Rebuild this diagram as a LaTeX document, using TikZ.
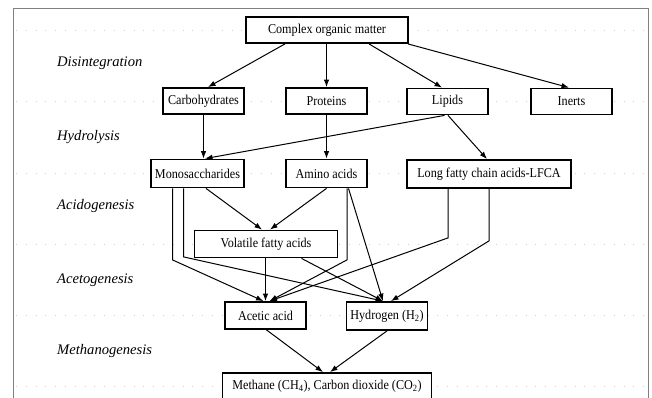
\documentclass[tikz,border=0pt]{standalone}
\usepackage{fontspec}
\setmainfont{Liberation Serif}
\newfontfamily\boxfont[FakeStretch=0.9]{Liberation Serif}
\usetikzlibrary{arrows.meta,calc}
\begin{document}
\begin{tikzpicture}[x=1pt,y=-1pt,
 box/.style={draw, line width=1.8pt, fill=white, inner sep=0pt, minimum height=26pt, font=\boxfont\fontsize{13.5}{15}\selectfont},
 lab/.style={anchor=west, inner sep=0pt, font=\fontsize{14.6}{16}\selectfont\itshape},
 arr/.style={line width=1pt, -{Latex[length=7.5pt,width=5.5pt]}},
 gridline/.style={draw=black!18, line width=0.8pt, dash pattern=on 0.8pt off 9pt},
 frameline/.style={draw=black!50, line width=0.9pt}]
\useasboundingbox (0,0) rectangle (652,398);
% frame
\draw[frameline] (13,398) -- (13,8) -- (648,8) -- (648,398);
% dotted guide lines
\foreach \yy in {30,101,173,244,315,386}
  \draw[gridline] (16,\yy) -- (645,\yy);
% stage labels
\node[lab] (l1) at (57,63) {Disintegration};
\node[lab] (l2) at (57,137) {Hydrolysis};
\node[lab] (l3) at (57,206) {Acidogenesis};
\node[lab] (l4) at (57,280) {Acetogenesis};
\node[lab] (l5) at (57,351) {Methanogenesis};
% boxes
\node[box, minimum width=162pt] (cm) at (327,30) {Complex organic matter};
\node[box, minimum width=81pt] (carb) at (203.5,101) {Carbohydrates};
\node[box, minimum width=81pt] (prot) at (326.5,101) {Proteins};
\node[box, minimum width=81pt] (lip) at (447.5,101.5) {Lipids};
\node[box, minimum width=81pt] (inert) at (571.5,101.5) {Inerts};
\node[box, minimum width=93pt, minimum height=28pt] (mono) at (197.5,173.5) {Monosaccharides};
\node[box, minimum width=81pt, minimum height=28pt] (amino) at (326.5,173.5) {Amino acids};
\node[box, minimum width=164pt, minimum height=28pt] (lfca) at (489,174) {Long fatty chain acids-LFCA};
\node[box, minimum width=143pt, minimum height=27pt] (vfa) at (266,244) {Volatile fatty acids};
\node[box, minimum width=81pt, minimum height=27pt] (acetic) at (265.5,315.5) {Acetic acid};
\node[box, minimum width=81pt, minimum height=28pt] (hyd) at (387,316) {Hydrogen (H\textsubscript{2})};
\node[box, minimum width=209pt, minimum height=27pt] (meth) at (327,386.5) {Methane (CH\textsubscript{4}), Carbon dioxide (CO\textsubscript{2})};
% connectors
\draw[arr] ([xshift=-42pt]cm.south) -- ([xshift=4.5pt]carb.north);
\draw[arr] (prot.north |- cm.south) -- (prot.north);
\draw[arr] ([xshift=42pt]cm.south) -- ([xshift=-5.5pt]lip.north);
\draw[arr] ([xshift=-1pt]cm.south east) -- ([xshift=-2.5pt]inert.north);
\draw[arr] (carb.south) -- (carb.south |- mono.north);
\draw[arr] (prot.south) -- (amino.north);
\draw[arr] ([xshift=-3pt]lip.south) -- ([xshift=7.5pt]mono.north);
\draw[arr] ([xshift=0.5pt]lip.south) -- ([xshift=-2pt]lfca.north);
\draw[arr] ([xshift=8.5pt]mono.south) -- ([xshift=-4pt]vfa.north);
\draw[arr] (amino.south) -- ([xshift=4pt]vfa.north);
\draw[arr] ([xshift=-25pt]mono.south) -- ++(0,71.5) -- ([xshift=-2pt]acetic.north);
\draw[arr] ([xshift=-14pt]mono.south) -- ++(0,68.5) -- ([xshift=-4pt]hyd.north);
\draw[arr] (acetic.north |- vfa.south) -- (acetic.north);
\draw[arr] ([xshift=35.5pt]vfa.south) -- ([xshift=-4pt]hyd.north);
\draw[arr] ([xshift=20.5pt]amino.south) -- ++(0,71.5) -- ([xshift=4pt]acetic.north);
\draw[arr] ([xshift=22pt]amino.south) -- ([xshift=-4pt]hyd.north);
\draw[arr] ([xshift=-41pt]lfca.south) -- ++(0,49) -- ([xshift=4pt]acetic.north);
\draw[arr] (lfca.south) -- ++(0,52) -- ([xshift=4pt]hyd.north);
\draw[arr] ([xshift=1pt]acetic.south) -- ([xshift=-4pt]meth.north);
\draw[arr] (hyd.south) -- ([xshift=3pt]meth.north);
\end{tikzpicture}
\end{document}
